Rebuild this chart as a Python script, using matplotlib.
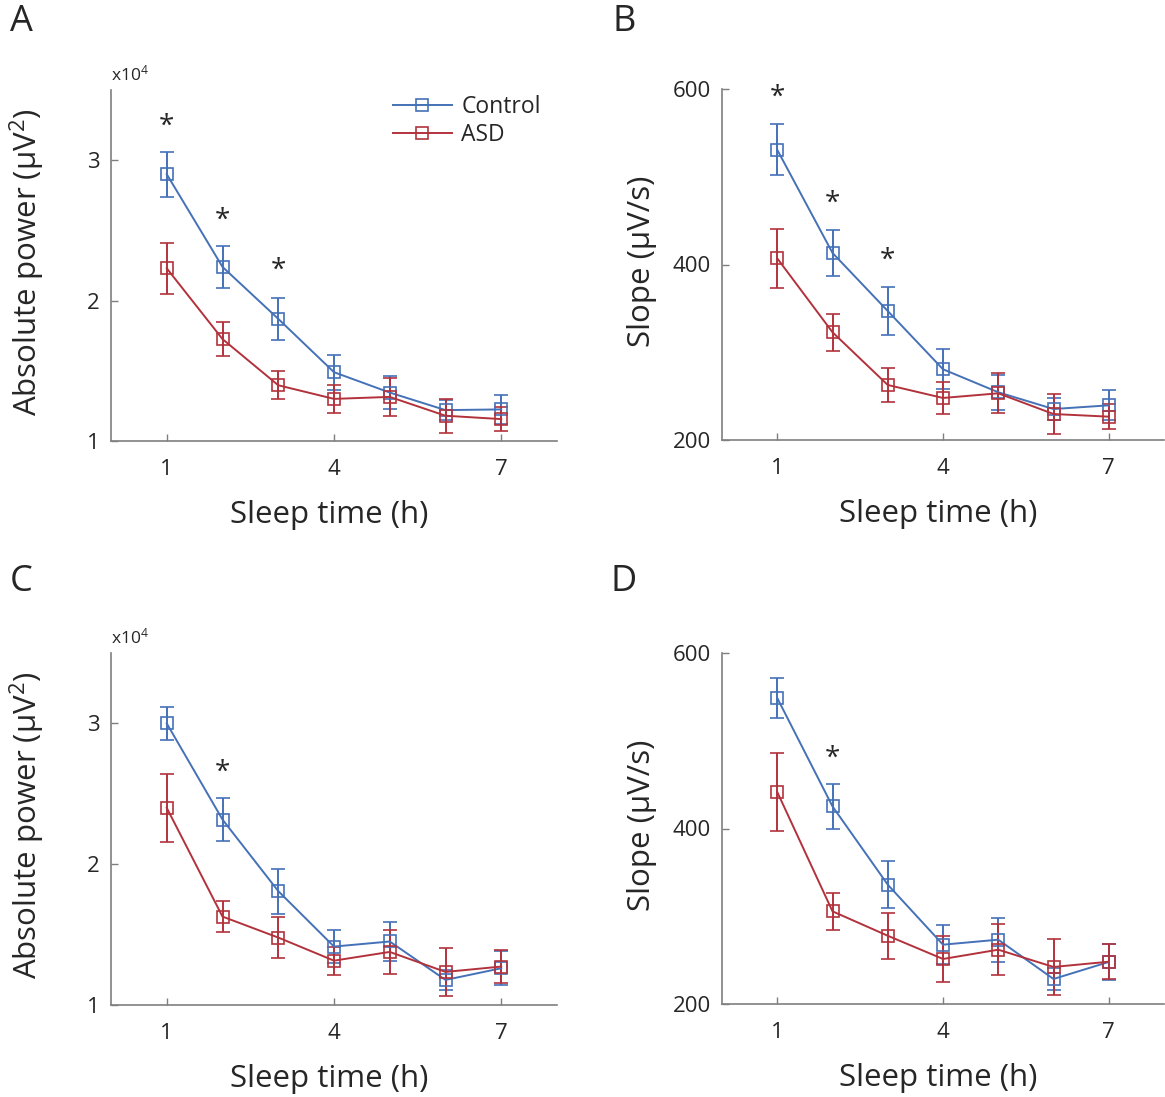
import numpy as np
import matplotlib
matplotlib.use('Agg')
import matplotlib.pyplot as plt
from matplotlib.lines import Line2D

plt.rcParams['font.family'] = ['Open Sans', 'DejaVu Sans']
plt.rcParams['mathtext.default'] = 'regular'

# data
hours = [1, 2, 3, 4, 5, 6, 7]

# A: absolute power (x10^4), first half of sleep
a_ctrl = [2.90, 2.24, 1.87, 1.49, 1.345, 1.22, 1.225]
a_ctrl_err = [0.16, 0.15, 0.15, 0.125, 0.12, 0.07, 0.105]
a_asd = [2.23, 1.726, 1.397, 1.30, 1.314, 1.18, 1.156]
a_asd_err = [0.18, 0.12, 0.10, 0.10, 0.135, 0.12, 0.085]
a_star_x = [1, 2, 3]
a_star_y = [3.28, 2.61, 2.25]

# B: slope
b_ctrl = [530.7, 413.2, 347.0, 280.6, 254.4, 235.3, 239.5]
b_ctrl_err = [29, 26, 27, 23, 20, 12, 17]
b_asd = [407.0, 322.8, 262.7, 247.9, 253.2, 229.6, 226.6]
b_asd_err = [34, 21, 19, 18, 23, 23, 14]
b_star_x = [1, 2, 3]
b_star_y = [596, 475.6, 411]

# C: absolute power (x10^4)
c_ctrl = [3.00, 2.317, 1.809, 1.415, 1.451, 1.178, 1.261]
c_ctrl_err = [0.12, 0.15, 0.16, 0.12, 0.14, 0.07, 0.12]
c_asd = [2.40, 1.628, 1.479, 1.315, 1.377, 1.235, 1.273]
c_asd_err = [0.24, 0.11, 0.145, 0.10, 0.157, 0.17, 0.12]
c_star_x = [2]
c_star_y = [2.69]

# D: slope
d_ctrl = [548.7, 425.2, 336.0, 267.6, 273.3, 228.5, 247.9]
d_ctrl_err = [23, 26, 27, 22, 25, 12, 21]
d_asd = [441.6, 305.6, 277.8, 251.3, 261.9, 242.2, 248.2]
d_asd_err = [44, 21, 26, 26, 29, 32, 20]
d_star_x = [2]
d_star_y = [486]

blue = '#4471b7'
red = '#b2323c'
grey = '#7f7f7f'
txt = '#262626'

fig = plt.figure(figsize=(11.65, 10.97), dpi=100)

W, H = 1165, 1097
def box(l, t, r, b):
    return [l / W, 1 - b / H, (r - l) / W, (b - t) / H]

panels = [
    (box(111, 90, 557, 441), 'A', (10, 22), a_ctrl, a_ctrl_err, a_asd, a_asd_err, a_star_x, a_star_y,
     (1, 3.5), [1, 2, 3], r'Absolute power (µV$^{2}$)', True),
    (box(722, 89, 1164, 440), 'B', (612, 22), b_ctrl, b_ctrl_err, b_asd, b_asd_err, b_star_x, b_star_y,
     (200, 600), [200, 400, 600], 'Slope (µV/s)', False),
    (box(111, 653, 557, 1005), 'C', (10, 582), c_ctrl, c_ctrl_err, c_asd, c_asd_err, c_star_x, c_star_y,
     (1, 3.5), [1, 2, 3], r'Absolute power (µV$^{2}$)', True),
    (box(722, 653, 1164, 1004), 'D', (610, 582), d_ctrl, d_ctrl_err, d_asd, d_asd_err, d_star_x, d_star_y,
     (200, 600), [200, 400, 600], 'Slope (µV/s)', False),
]

for i, (pos, letter, lxy, yc, ec, ya, ea, sx, sy, ylim, yticks, ylab, power) in enumerate(panels):
    ax = fig.add_axes(pos)
    ax.errorbar(hours, yc, yerr=ec, color=blue, marker='s', mfc='none', ms=8,
                mew=1.2, lw=1.4, capsize=5, elinewidth=1.4, capthick=1.4)
    ax.errorbar(hours, ya, yerr=ea, color=red, marker='s', mfc='none', ms=8,
                mew=1.2, lw=1.4, capsize=5, elinewidth=1.4, capthick=1.4)
    for x, y in zip(sx, sy):
        ax.annotate('*', (x, y), xytext=(0, -4), textcoords='offset points',
                    ha='center', va='center', fontsize=20, color=txt)
    ax.set_xlim(0, 8)
    ax.set_ylim(*ylim)
    ax.set_xticks([1, 4, 7])
    ax.set_yticks(yticks)
    for s in ['top', 'right']:
        ax.spines[s].set_visible(False)
    for s in ['left', 'bottom']:
        ax.spines[s].set_color(grey)
        ax.spines[s].set_linewidth(1.2)
    ax.tick_params(direction='in', length=5, width=1, color=grey,
                   labelsize=16, labelcolor=txt)
    ax.tick_params(axis='x', pad=13)
    ax.tick_params(axis='y', pad=8)
    ax.set_xlabel('Sleep time (h)', fontsize=22.5, color=txt)
    ax.xaxis.set_label_coords(0.49, -0.168)
    ax.set_ylabel(ylab, fontsize=22.5, color=txt)
    ax.yaxis.set_label_coords(-0.144 if power else -0.148, 0.51)
    if power:
        ax.text(0.0, 1.045, r'x10$^{4}$', transform=ax.transAxes, fontsize=12.5,
                color=txt, ha='left', va='center')
    fig.text(lxy[0] / W, 1 - lxy[1] / H, letter,
             fontsize=26, color=txt, ha='left', va='center')
    if i == 0:
        handles = [Line2D([], [], color=blue, marker='s', mfc='none', ms=8, mew=1.2, lw=1.4),
                   Line2D([], [], color=red, marker='s', mfc='none', ms=8, mew=1.2, lw=1.4)]
        ax.legend(handles, ['Control', 'ASD'], loc='upper left', bbox_to_anchor=(0.585, 1.045),
                  frameon=False, fontsize=16.5, handlelength=2.6, handletextpad=0.4,
                  labelspacing=0.2, labelcolor=txt)

fig.savefig('out.png', dpi=100)
